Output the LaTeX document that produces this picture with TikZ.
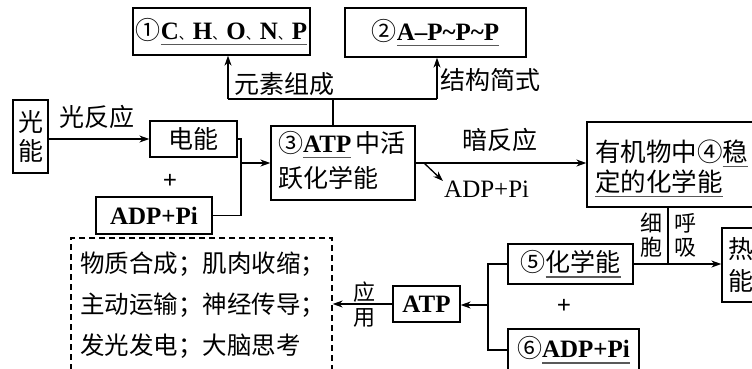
\documentclass[tikz,border=0pt]{standalone}
\usepackage{fontspec}
\setmainfont{Liberation Serif}
\newfontfamily\cjk{Noto Sans CJK SC}
\usetikzlibrary{arrows.meta}
\definecolor{ulc}{gray}{0.35}
\newcommand\ulx[1]{\sbox0{#1}\rlap{\textcolor{ulc}{\rule[-6pt]{\wd0}{1.3pt}}}\usebox0}
\newcommand\lat[1]{{\rmfamily\bfseries #1}}
\newcommand\dn{{\fontsize{14}{14}\selectfont\cjk 、}}
\begin{document}
\begin{tikzpicture}[x=1pt,y=-1pt,
  every node/.style={font=\fontsize{25}{30}\selectfont\cjk},
  box/.style={draw,line width=1.3pt,inner sep=0pt},
  conn/.style={line width=1.3pt},
  arr/.style={conn,-{Stealth[length=10pt,width=7pt]}},
  lab/.style={inner sep=0pt},
  small/.style={font=\fontsize{22}{24}\selectfont\cjk,align=center,inner sep=0pt}]
\useasboundingbox (0,0) rectangle (752,368);
% boxes
\node[box,minimum width=177pt,minimum height=47pt] (b1) at (221.5,31.5)
  {①\ulx{\lat{C}\dn\lat{H}\dn\lat{O}\dn\lat{N}\dn\lat{P}}};
\node[box,minimum width=181pt,minimum height=49pt] (b2) at (435.5,32.5)
  {②\ulx{\lat{A--P\char`\~P\char`\~P}}};
\node[box,minimum width=35pt,minimum height=73pt,align=center,font=\fontsize{25}{29}\selectfont\cjk] (guang) at (30.5,136.5) {光\\能};
\node[box,minimum width=87pt,minimum height=36pt] (dian) at (193.5,139) {电能};
\node[box,minimum width=116pt,minimum height=37pt] (adp1) at (154,215.5) {\lat{ADP+Pi}};
\node[box,minimum width=144pt,minimum height=74pt] (atp3) at (343,163) {};
\node[box,minimum width=193pt,minimum height=85pt] (org) at (683.5,164.5) {};
\node[box,minimum width=68pt,minimum height=74pt,text width=56pt,inner xsep=6pt,align=left,
  font=\fontsize{25}{32}\selectfont\cjk] (heat) at (756,265) {热\\能};
\node[box,minimum width=125pt,minimum height=40pt] (c5) at (570.5,264) {⑤\ulx{化学能}};
\node[box,minimum width=131pt,minimum height=42pt] (c6) at (573.5,350) {⑥\ulx{\lat{ADP+Pi}}};
\node[box,minimum width=67pt,minimum height=36pt] (atpb) at (426.5,304) {\lat{ATP}};
\node[box,dash pattern=on 6pt off 4pt,minimum width=261pt,minimum height=152pt] (dash) at (201.5,314) {};
% texts inside two-line boxes
\node[lab,anchor=base west] (a1) at (278,152) {③\ulx{\lat{ATP}}\,中活};
\node[lab,anchor=base west] (a2) at (278,187) {跃化学能};
\node[lab,anchor=base west,font=\fontsize{25.5}{30}\selectfont\cjk] (o1) at (595,161) {有机物中④\ulx{稳}};
\node[lab,anchor=base west,font=\fontsize{25.5}{30}\selectfont\cjk] (o2) at (595,191) {\ulx{定的化学能}};
% texts
\node[lab,anchor=west,font=\fontsize{24.5}{28}\selectfont\cjk] (t1) at (80,264) {物质合成；肌肉收缩；};
\node[lab,anchor=west,font=\fontsize{24.5}{28}\selectfont\cjk] (t2) at (80,305) {主动运输；神经传导；};
\node[lab,anchor=west,font=\fontsize{24.5}{28}\selectfont\cjk] (t3) at (80,346) {发光发电；大脑思考};
\node[lab] (lgf) at (97,117) {光反应};
\node[lab] (plus1) at (170,181) {\lat{+}};
\node[lab] (ysz) at (284,84) {元素组成};
\node[lab] (jgjs) at (490,80) {结构简式};
\node[lab] (afy) at (500,140) {暗反应};
\node[lab,anchor=west] (adp2) at (444,189) {\rmfamily ADP+Pi};
\node[small] (xb) at (651,235) {细\\胞};
\node[small] (hx) at (685,235) {呼\\吸};
\node[lab] (plus2) at (564,306) {\lat{+}};
\node[small,font=\fontsize{22}{25}\selectfont\cjk] (yy) at (364,305) {应\\用};
% connectors
\draw[arr] (guang.east |- dian.west) -- (dian.west);
\coordinate (jx) at (241,163);
\draw[conn] (dian.east) -| (jx) |- (adp1.east);
\draw[arr] (jx) -- (jx -| atp3.west);
\coordinate (tl) at (228,99);
\coordinate (tr) at (437,99);
\coordinate (tm) at (333,99);
\draw[conn] (tl) -- (tr);
\draw[conn] (tm) -- (tm |- atp3.north);
\draw[arr] (tl) -- (tl |- b1.south);
\draw[arr] (tr) -- (tr |- b2.south);
\draw[arr] (atp3.east) -- (atp3.east -| org.west);
\coordinate (d0) at (424,163);
\coordinate (d1) at (443,181);
\draw[arr] (d0) -- (d1);
\coordinate (v) at (668,264);
\draw[conn] (v |- org.south) -- (v);
\draw[arr] (c5.east) -- (c5.east -| heat.west);
\coordinate (k) at (488,305);
\draw[conn] (c5.west) -| (k) |- (c6.west);
\draw[arr] (k) -- (k -| atpb.east);
\draw[arr] (atpb.west) -- (atpb.west -| dash.east);
\end{tikzpicture}
\end{document}
